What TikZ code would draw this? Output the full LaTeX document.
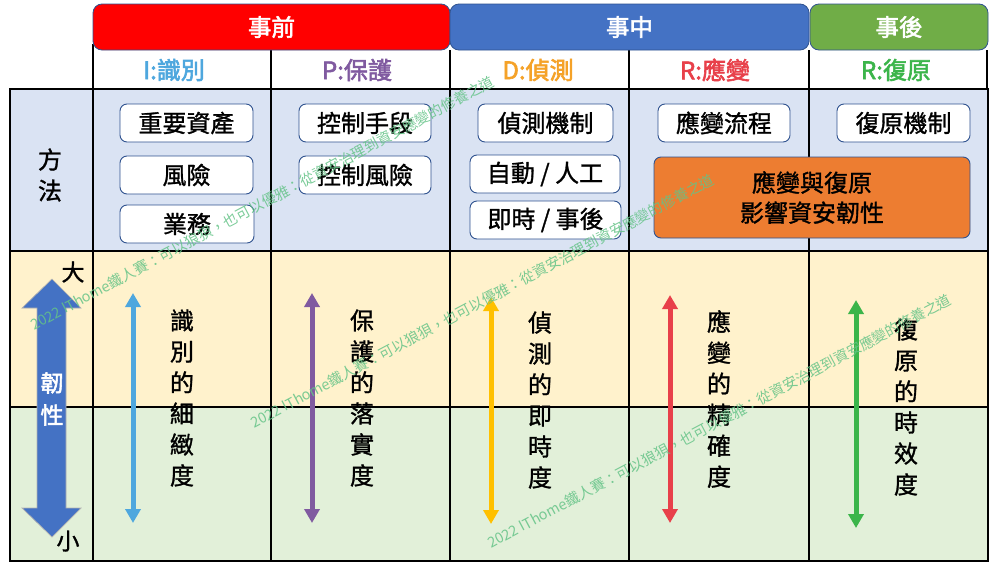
\documentclass[tikz,border=0pt]{standalone}
\usepackage{fontspec}
\setmainfont{Noto Sans CJK TC}[FakeBold=1.2]
\newfontfamily\hdfont{Noto Sans CJK TC}[FakeBold=2.4]
\newfontfamily\wmfont{Noto Sans CJK TC}
\usetikzlibrary{arrows.meta}
\definecolor{hdrred}{RGB}{255,0,0}
\definecolor{hdrblue}{RGB}{68,114,196}
\definecolor{hdrgreen}{RGB}{112,173,71}
\definecolor{bordblue}{RGB}{47,82,143}
\definecolor{rowblue}{RGB}{218,227,243}
\definecolor{rowyellow}{RGB}{255,242,204}
\definecolor{rowgreen}{RGB}{226,240,217}
\definecolor{cI}{RGB}{78,167,222}
\definecolor{cP}{RGB}{128,90,160}
\definecolor{cDtext}{RGB}{245,162,40}
\definecolor{cD}{RGB}{255,192,0}
\definecolor{cR}{RGB}{232,64,74}
\definecolor{cG}{RGB}{59,181,74}
\definecolor{orangebox}{RGB}{237,125,49}
\definecolor{wmcol}{RGB}{100,195,135}
\tikzset{
  gridline/.style={line width=2.6pt, black},
  banner/.style={draw=bordblue, line width=0.8pt, rounded corners=9pt, text=white,
    font=\hdfont\fontsize{23.5}{28}\selectfont, inner sep=0pt},
  phase/.style={font=\hdfont\fontsize{24}{28}\selectfont, inner sep=0pt},
  plain/.style={font=\fontsize{23}{28}\selectfont, inner sep=0pt},
  itembox/.style={draw=bordblue, line width=0.9pt, fill=white, rounded corners=7pt,
    minimum height=38pt, font=\fontsize{24}{28}\selectfont, inner sep=0pt},
  vtext/.style={align=center, font=\fontsize{24}{31}\selectfont, inner sep=0pt},
  rangearrow/.style={line width=5pt, {Triangle[width=15pt,length=14pt]}-{Triangle[width=15pt,length=14pt]}},
  wmark/.style={text=wmcol, opacity=0.85, rotate=28, anchor=south west,
    font=\wmfont\fontsize{14.5}{16}\selectfont, inner sep=0pt}
}
\begin{document}
\begin{tikzpicture}[x=1pt,y=-1pt]
\useasboundingbox (0,0) rectangle (998,573);
\fill[white] (0,0) rectangle (998,573);
% row fills
\fill[rowblue] (10,89) rectangle (988,251);
\fill[rowyellow] (10,251) rectangle (988,407);
\fill[rowgreen] (10,407) rectangle (988,561);
% grid
\draw[gridline] (10,89) rectangle (988,561);
\draw[gridline] (10,251) -- (988,251);
\draw[gridline] (10,407) -- (988,407);
\draw[gridline] (93,44) -- (93,561);
\draw[gridline] (271,50) -- (271,561);
\draw[gridline] (450,50) -- (450,561);
\draw[gridline] (629,50) -- (629,561);
\draw[gridline] (809,50) -- (809,561);
\draw[gridline] (987,50) -- (987,89);
% banners
\node[banner, fill=hdrred, minimum width=357pt, minimum height=46pt] (pre) at (271.5,27) {事前};
\node[banner, fill=hdrblue, minimum width=359pt, minimum height=46pt] (mid) at (629.5,27) {事中};
\node[banner, fill=hdrgreen, minimum width=178pt, minimum height=46pt] (post) at (899,27) {事後};
% phase labels
\node[phase, text=cI] (lI) at (174,70) {I:識別};
\node[phase, text=cP] (lP) at (357,70) {P:保護};
\node[phase, text=cDtext] (lD) at (538,70) {D:偵測};
\node[phase, text=cR] (lR) at (715,70) {R:應變};
\node[phase, text=cG] (lG) at (896,70) {R:復原};
% method row
\node[vtext] (method) at (50,175) {方\\法};
\node[itembox, minimum width=133pt] (b1) at (186.5,123) {重要資產};
\node[itembox, minimum width=133pt] (b2) at (186.5,175) {風險};
\node[itembox, minimum width=134pt] (b3) at (187,224) {業務};
\node[itembox, minimum width=132pt] (b4) at (365,123) {控制手段};
\node[itembox, minimum width=132pt] (b5) at (365,175) {控制風險};
\node[itembox, minimum width=135pt] (b6) at (545.5,123) {偵測機制};
\node[itembox, minimum width=150pt] (b7) at (545,174) {自動 / 人工};
\node[itembox, minimum width=151pt] (b8) at (545.5,220) {即時 / 事後};
\node[itembox, minimum width=132pt] (b9) at (724,123) {應變流程};
\node[itembox, minimum width=133pt] (b10) at (903.5,123) {復原機制};
\node[itembox, fill=orangebox, minimum width=316pt, minimum height=81pt, align=center,
  font=\fontsize{24}{30}\selectfont] (b11) at (812,197.5) {應變與復原\\影響資安韌性};
% big resilience arrow
\draw[fill=hdrblue, draw=gray!60, line width=0.7pt]
  (52,279) -- (81,308) -- (66,308) -- (66,508) -- (81,508) -- (52,537)
  -- (22,508) -- (37,508) -- (37,308) -- (22,308) -- cycle;
\node[vtext, text=white, font=\hdfont\fontsize{23}{32}\selectfont] (res) at (52,399) {韌\\性};
\node[plain] (big) at (73,272) {大};
\node[plain] (small) at (68,541) {小};
% range arrows
\coordinate (aIt) at (133,293); \coordinate (aIb) at (133,523);
\coordinate (aPt) at (312,293); \coordinate (aPb) at (312,523);
\coordinate (aDt) at (491,297); \coordinate (aDb) at (491,524);
\coordinate (aRt) at (670,295); \coordinate (aRb) at (670,523);
\coordinate (aGt) at (856,300); \coordinate (aGb) at (856,528);
\draw[rangearrow, cI] (aIt) -- (aIb);
\draw[rangearrow, cP] (aPt) -- (aPb);
\draw[rangearrow, cD] (aDt) -- (aDb);
\draw[rangearrow, cR] (aRt) -- (aRb);
\draw[rangearrow, cG] (aGt) -- (aGb);
% vertical texts
\node[vtext] (tI) at (182,398) {識\\別\\的\\細\\緻\\度};
\node[vtext] (tP) at (362,398) {保\\護\\的\\落\\實\\度};
\node[vtext] (tD) at (540,400) {偵\\測\\的\\即\\時\\度};
\node[vtext] (tR) at (719,399) {應\\變\\的\\精\\確\\度};
\node[vtext] (tG) at (906,407) {復\\原\\的\\時\\效\\度};
% watermarks
\node[wmark] (wm1) at (35,332) {2022 IThome鐵人賽：可以狼狽，也可以優雅：從資安治理到資安應變的修養之道};
\node[wmark] (wm2) at (255,430) {2022 IThome鐵人賽：可以狼狽，也可以優雅：從資安治理到資安應變的修養之道};
\node[wmark] (wm3) at (492,550) {2022 IThome鐵人賽：可以狼狽，也可以優雅：從資安治理到資安應變的修養之道};
\end{tikzpicture}
\end{document}
